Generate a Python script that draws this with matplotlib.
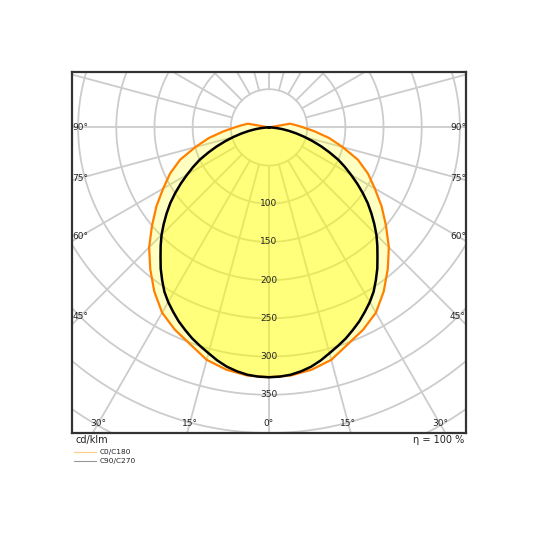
import numpy as np
import matplotlib
matplotlib.use('Agg')
import matplotlib.pyplot as plt

# 光强分布 (cd/klm), 从天底 0° 开始
angles_c0 = [0, 5, 10, 15, 20, 25, 30, 35, 40, 45, 50, 55, 60, 65, 70, 75, 80, 85, 90, 95, 100, 105]
c0_c180 = [327, 326, 322, 315, 302, 292, 280, 262, 242, 222, 200, 180, 160, 143, 124, 100, 80, 60, 45, 35, 28, 0]

angles_c90 = [0, 2.5, 5, 7.5, 10, 12.5, 15, 17.5, 20, 22.5, 25, 27.5, 30, 32.5, 35, 37.5, 40, 42.5, 45,
              47.5, 50, 52.5, 55, 57.5, 60, 62.5, 65, 67.5, 70, 72.5, 75, 77.5, 80, 82.5, 85, 87.5, 90]
c90_c270 = [327, 326.5, 325, 322, 318, 312.5, 306, 300, 294, 287, 280, 272, 264, 255, 244, 233, 221, 210, 199,
            187, 175, 163, 150, 137, 124, 112, 100, 86, 73, 60, 48, 37, 27, 18, 10, 4, 0]

ring_values = [50, 100, 150, 200, 250, 300, 350, 400, 450, 500, 550, 600]
ring_labels = [100, 150, 200, 250, 300, 350]
spoke_angles = np.arange(0, 360, 15)
angle_labels = [0, 15, 30, 45, 60, 75, 90]

series_names = ['C0/C180', 'C90/C270']
eta_text = 'η = 100 %'
unit_text = 'cd/klm'

XMAX = 258
YMIN, YMAX = -400, 72.5


def polar_curve(angles, values):
    # 左右对称拼成闭合曲线
    ang = np.array(angles, dtype=float)
    val = np.array(values, dtype=float)
    phi = np.concatenate([-ang[::-1], ang[1:]])
    r = np.concatenate([val[::-1], val[1:]])
    rad = np.deg2rad(phi)
    return r * np.sin(rad), -r * np.cos(rad)


fig = plt.figure(figsize=(5.4, 5.4), dpi=100)
ax = fig.add_axes([72 / 540, 107 / 540, 394 / 540, 361 / 540])
ax.set_xlim(-XMAX, XMAX)
ax.set_ylim(YMIN, YMAX)
ax.set_xticks([])
ax.set_yticks([])
for s in ax.spines.values():
    s.set_color('#333333')
    s.set_linewidth(1.6)

grid_kw = dict(color='#cccccc', lw=1.3, zorder=1)
t = np.linspace(0, 2 * np.pi, 400)
for rv in ring_values:
    ax.plot(rv * np.cos(t), rv * np.sin(t), **grid_kw)
for a in spoke_angles:
    rad = np.deg2rad(a)
    ax.plot([50 * np.sin(rad), 700 * np.sin(rad)], [-50 * np.cos(rad), -700 * np.cos(rad)], **grid_kw)

# 填充
xo, yo = polar_curve(angles_c0, c0_c180)
xb, yb = polar_curve(angles_c90, c90_c270)
ax.fill(xo, yo, color='#ffff00', alpha=0.24, lw=0, zorder=2)
ax.fill(xb, yb, color='#ffff00', alpha=0.36, lw=0, zorder=2)
ax.plot(xo, yo, color='#ff8000', lw=1.6, zorder=3)
ax.plot(xb, yb, color='black', lw=1.8, zorder=4)

# 圆环刻度
for rv in ring_labels:
    ax.text(0, -rv, str(rv), ha='center', va='center', fontsize=6.5, color='#222222', zorder=5)

# 角度标签, 放在内缩矩形与射线的交点
inset_x = XMAX - 10.5
inset_y = -YMIN - 12
for a in angle_labels:
    rad = np.deg2rad(a)
    sx, cy = np.sin(rad), np.cos(rad)
    cands = []
    if sx > 1e-9:
        cands.append(inset_x / sx)
    if cy > 1e-9:
        cands.append(inset_y / cy)
    tt = min(cands)
    px, py = tt * sx, -tt * cy
    for sgn in ([1] if a == 0 else [-1, 1]):
        ax.text(sgn * px, py, '%d°' % a, ha='center', va='center', fontsize=6.5, color='#222222', zorder=5)

fig.text(76 / 540, 1 - 440 / 540, unit_text, ha='left', va='center', fontsize=7, color='#222222')
fig.text(464 / 540, 1 - 440 / 540, eta_text, ha='right', va='center', fontsize=7, color='#222222')

# 图例
leg_colors = ['#ffcc88', '#999999']
leg_y = [452, 461]
for name, col, yy in zip(series_names, leg_colors, leg_y):
    fy = 1 - yy / 540
    fig.add_artist(plt.Line2D([74 / 540, 96 / 540], [fy, fy], color=col, lw=0.8))
    fig.text(100 / 540, fy, name, ha='left', va='center', fontsize=5.3, color='#222222')

fig.savefig('out.png', dpi=100)
